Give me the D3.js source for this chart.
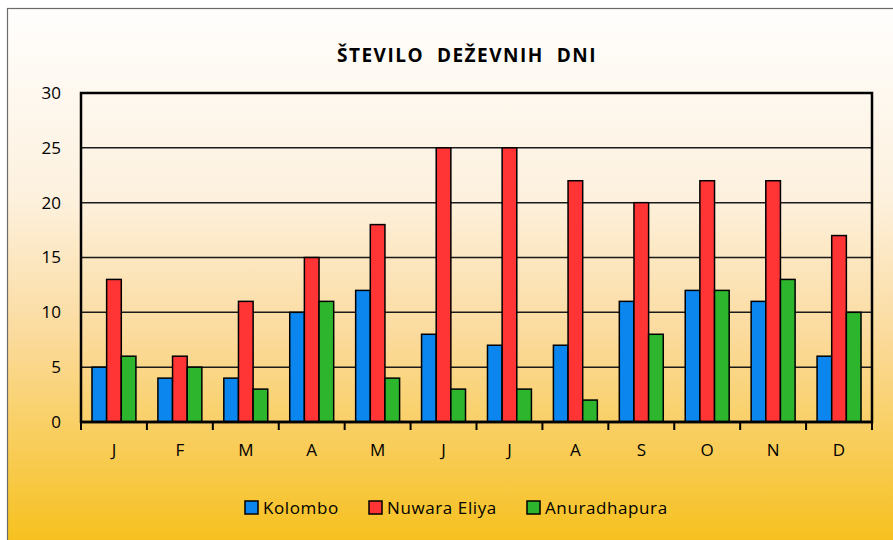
<!DOCTYPE html>
<html>
<head>
<meta charset="utf-8">
<script src="https://cdn.jsdelivr.net/npm/d3@7"></script>
<style>
body { margin: 0; background: #fff; }
text { font-family: "Open Sans", sans-serif; fill: #000; }
</style>
</head>
<body>
<script>
var months = ["J", "F", "M", "A", "M", "J", "J", "A", "S", "O", "N", "D"];
var seriesNames = ["Kolombo", "Nuwara Eliya", "Anuradhapura"];
var kolombo = [5, 4, 4, 10, 12, 8, 7, 7, 11, 12, 11, 6];
var nuwaraEliya = [13, 6, 11, 15, 18, 25, 25, 22, 20, 22, 22, 17];
var anuradhapura = [6, 5, 3, 11, 4, 3, 3, 2, 8, 12, 13, 10];
var yTicks = [0, 5, 10, 15, 20, 25, 30];
var colors = ["#0a86ee", "#ff3535", "#2db62d"];

var W = 893, H = 540;
var margin = {top: 93, right: 21, bottom: 118, left: 81};
var width = W - margin.left - margin.right;
var height = H - margin.top - margin.bottom;

var svg = d3.select("body").append("svg")
  .attr("width", W)
  .attr("height", H);

// fondo degradado
var grad = svg.append("defs").append("linearGradient")
  .attr("id", "bg").attr("x1", 0).attr("y1", 0).attr("x2", 0).attr("y2", 1);
grad.append("stop").attr("offset", "0%").attr("stop-color", "#fffefd");
grad.append("stop").attr("offset", "35%").attr("stop-color", "#fdf1de");
grad.append("stop").attr("offset", "60%").attr("stop-color", "#fbdb9e");
grad.append("stop").attr("offset", "100%").attr("stop-color", "#f6c01a");

svg.append("rect")
  .attr("x", 7.5).attr("y", 8.5)
  .attr("width", W).attr("height", H)
  .attr("fill", "url(#bg)")
  .attr("stroke", "#6b6b6b").attr("stroke-width", 1.2);

var g = svg.append("g")
  .attr("transform", "translate(" + margin.left + "," + margin.top + ")");

var x0 = d3.scaleBand().domain(d3.range(months.length)).range([0, width]);
var bw = x0.bandwidth() / 4.5;   // gap 150%
var y = d3.scaleLinear().domain([0, 30]).range([height, 0]);

// grid
g.selectAll(".grid")
  .data(yTicks.filter(function(d) { return d > 0 && d < 30; }))
  .enter().append("line")
  .attr("x1", 0).attr("x2", width)
  .attr("y1", function(d) { return y(d); })
  .attr("y2", function(d) { return y(d); })
  .attr("stroke", "#1a1a1a").attr("stroke-width", 1.5);

// bars
var data = [kolombo, nuwaraEliya, anuradhapura];
data.forEach(function(vals, s) {
  g.selectAll(".bar" + s)
    .data(vals)
    .enter().append("rect")
    .attr("x", function(d, i) { return x0(i) + bw * 0.75 + s * bw; })
    .attr("y", function(d) { return y(d); })
    .attr("width", bw)
    .attr("height", function(d) { return y(0) - y(d); })
    .attr("fill", colors[s])
    .attr("stroke", "#000").attr("stroke-width", 1.5);
});

// plot border
g.append("rect")
  .attr("width", width).attr("height", height)
  .attr("fill", "none").attr("stroke", "#000").attr("stroke-width", 2.5);

// y axis
var yAxis = d3.axisLeft(y).tickValues(yTicks).tickSize(0).tickPadding(20);
var yg = g.append("g").call(yAxis);
yg.select(".domain").remove();
yg.selectAll("text").style("font-size", "17px").attr("fill", "#000");

// x axis
var xAxisGroup = g.append("g").attr("transform", "translate(0," + height + ")");
xAxisGroup.append("line").attr("x1", 0).attr("x2", width).attr("stroke", "#000").attr("stroke-width", 2.5);
xAxisGroup.selectAll(".tk")
  .data(d3.range(months.length + 1))
  .enter().append("line")
  .attr("x1", function(d) { return d * x0.bandwidth(); })
  .attr("x2", function(d) { return d * x0.bandwidth(); })
  .attr("y1", 0).attr("y2", 8)
  .attr("stroke", "#000").attr("stroke-width", 2);
xAxisGroup.selectAll(".lbl")
  .data(months)
  .enter().append("text")
  .attr("x", function(d, i) { return x0(i) + x0.bandwidth() / 2; })
  .attr("y", 34)
  .attr("text-anchor", "middle")
  .style("font-size", "17px")
  .text(function(d) { return d; });

// title
svg.append("text")
  .attr("x", 467).attr("y", 62)
  .attr("text-anchor", "middle")
  .style("font-size", "19px").style("font-weight", "bold")
  .style("letter-spacing", "1.5px")
  .style("white-space", "pre")
  .text("ŠTEVILO  DEŽEVNIH  DNI");

// legend
var legX = [245, 369, 527];
var leg = svg.selectAll(".leg")
  .data(seriesNames)
  .enter().append("g")
  .attr("transform", function(d, i) { return "translate(" + legX[i] + ",501)"; });
leg.append("rect")
  .attr("width", 13).attr("height", 13)
  .attr("fill", function(d, i) { return colors[i]; })
  .attr("stroke", "#000").attr("stroke-width", 1.5);
leg.append("text")
  .attr("x", 18).attr("y", 13)
  .style("font-size", "17px")
  .style("letter-spacing", "0.6px")
  .text(function(d) { return d; });
</script>
</body>
</html>
